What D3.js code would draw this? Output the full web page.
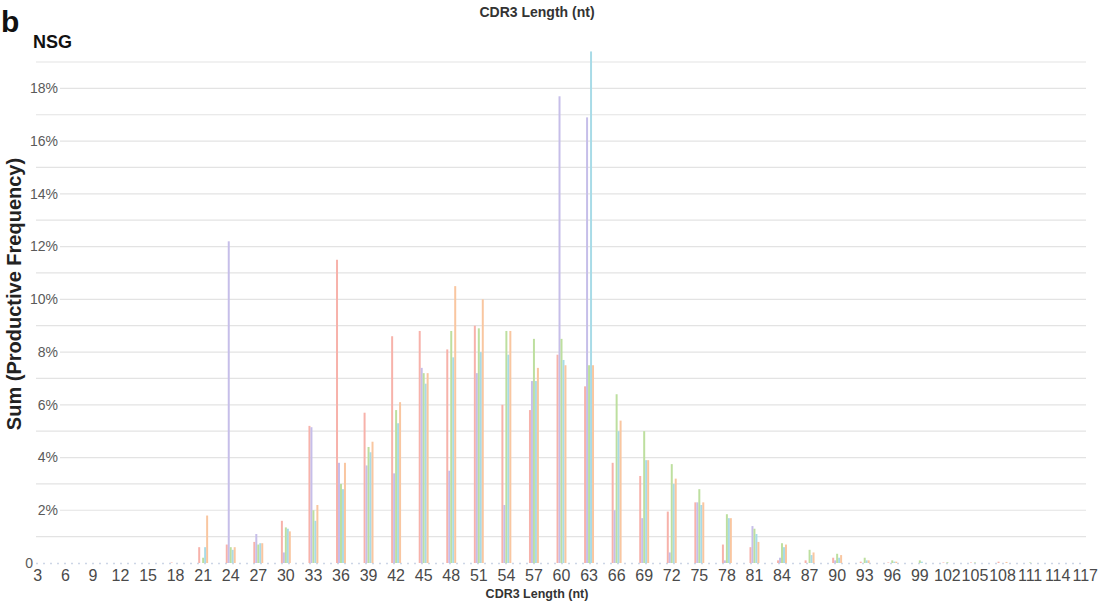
<!DOCTYPE html>
<html>
<head>
<meta charset="utf-8">
<script src="https://cdn.jsdelivr.net/npm/d3@7"></script>
<style>
  body { margin: 0; background: #fff; }
  svg { display: block; font-family: 'Liberation Sans', Arial, sans-serif; }
</style>
</head>
<body>
<svg id="chart" width="1098" height="601"></svg>
<script>
// CDR3 lengths (nt) on the x axis
const lengths = d3.range(3, 118, 3);

// series names (one per mouse / sample), values are % of productive reads
const seriesNames = ['s1', 's2', 's3', 's4', 's5'];
const seriesColors = ['#f7b2aa', '#c6bee9', '#bddf9f', '#a8dbe7', '#f9c6a0'];

//              3     6     9     12    15    18    21   24    27   30   33   36    39   42   45   48   51   54   57   60    63    66   69   72   75   78   81   84   87   90   93    96    99    102   105   108   111   114   117
const s1 = [0,    0,    0,    0,    0,    0.02, 0.6, 0.7,  0.8, 1.6, 5.2, 11.5, 5.7, 8.6, 8.8, 8.1, 9.0, 6.0, 5.8, 7.9,  6.7,  3.8, 3.3, 1.95,2.3, 0.7, 0.6, 0.1, 0.1, 0.2, 0.05, 0.02, 0,    0.02, 0.02, 0.05, 0,    0,    0];
const s2 = [0,    0,    0,    0,    0,    0,    0,   12.2, 1.1, 0.4, 5.15,3.8,  3.7, 3.4, 7.4, 3.5, 7.2, 2.2, 6.9, 17.7, 16.9, 2.0, 1.7, 0.4, 2.3, 0.1, 1.4, 0.2, 0,   0.1, 0,    0,    0,    0,    0,    0,    0,    0,    0];
const s3 = [0,    0,    0,    0,    0,    0,    0.2, 0.6,  0.7, 1.35,2.0, 3.0,  4.4, 5.8, 7.2, 8.8, 8.9, 8.8, 8.5, 8.5,  7.5,  6.4, 5.0, 3.75,2.8, 1.85,1.3, 0.75,0.5, 0.35,0.2,  0.1,  0.1,  0.03, 0.02, 0,    0.02, 0,    0];
const s4 = [0,    0,    0,    0,    0,    0,    0.6, 0.5,  0.75,1.3, 1.6, 2.8,  4.2, 5.3, 6.8, 7.8, 8.0, 7.9, 6.9, 7.7,  19.4, 5.0, 3.9, 3.0, 2.2, 1.7, 1.1, 0.6, 0.3, 0.2, 0.1,  0.05, 0.05, 0,    0,    0,    0,    0,    0];
const s5 = [0,    0,    0,    0,    0,    0,    1.8, 0.6,  0.75,1.2, 2.2, 3.8,  4.6, 6.1, 7.2, 10.5,10.0,8.8, 7.4, 7.5,  7.5,  5.4, 3.9, 3.2, 2.3, 1.7, 0.8, 0.7, 0.4, 0.3, 0.1,  0.05, 0,    0,    0,    0.04, 0,    0,    0];
const seriesValues = [s1, s2, s3, s4, s5];

const yTicks = [0, 2, 4, 6, 8, 10, 12, 14, 16, 18];
const yGrid = d3.range(1, 20);

const svg = d3.select('#chart');
const zeroY = 563;
const plotLeft = 36, plotRight = 1086;

const x0 = d3.scaleBand().domain(lengths).range([24, 1099]).paddingInner(0.64).paddingOuter(0.32);
const x1 = d3.scaleBand().domain(seriesNames).range([0, x0.bandwidth()]);
const y = d3.scaleLinear().domain([0, 19]).range([zeroY, 62]);

// gridlines; labelled ones begin after the label
svg.append('g')
  .selectAll('line')
  .data(yGrid)
  .join('line')
  .attr('x1', (d) => (d % 2 === 0 ? 60 : plotLeft))
  .attr('x2', plotRight)
  .attr('y1', (d) => y(d))
  .attr('y2', (d) => y(d))
  .attr('stroke', '#e3e3e3')
  .attr('stroke-width', 1.2);

// dotted baseline
svg.append('line')
  .attr('x1', plotLeft)
  .attr('x2', plotRight)
  .attr('y1', zeroY + 0.5)
  .attr('y2', zeroY + 0.5)
  .attr('stroke', '#cdd6e6')
  .attr('stroke-width', 1.5)
  .attr('stroke-dasharray', '2,5');

// y tick labels
svg.append('g')
  .selectAll('text')
  .data(yTicks)
  .join('text')
  .attr('x', (d) => (d === 0 ? 33 : 58))
  .attr('y', (d) => y(d))
  .attr('dy', '0.35em')
  .attr('text-anchor', 'end')
  .attr('fill', '#5a5a5a')
  .style('font-size', '14px')
  .text((d) => (d === 0 ? '0' : d + '%'));

// bars
const groups = svg.append('g')
  .selectAll('g')
  .data(lengths)
  .join('g')
  .attr('transform', (d) => `translate(${x0(d)},0)`);

groups.selectAll('rect')
  .data((d, i) => seriesNames.map((name, k) => ({ name: name, k: k, value: seriesValues[k][i] })))
  .join('rect')
  .attr('x', (d) => x1(d.name))
  .attr('width', x1.bandwidth())
  .attr('y', (d) => y(d.value))
  .attr('height', (d) => zeroY - y(d.value))
  .attr('fill', (d) => seriesColors[d.k]);

// x axis labels
const xAxis = svg.append('g')
  .attr('transform', `translate(0,${zeroY})`)
  .call(d3.axisBottom(x0).tickSize(0).tickPadding(7));
xAxis.select('.domain').remove();
xAxis.selectAll('text')
  .attr('fill', '#4a4a4a')
  .style('font-size', '16px')
  .style('font-family', "'Liberation Sans', Arial, sans-serif");

// titles
svg.append('text')
  .attr('x', 537)
  .attr('y', 17)
  .attr('text-anchor', 'middle')
  .style('font-size', '14px')
  .style('font-weight', 'bold')
  .attr('fill', '#333')
  .text('CDR3 Length (nt)');

svg.append('text')
  .attr('x', 537)
  .attr('y', 598)
  .attr('text-anchor', 'middle')
  .style('font-size', '12.5px')
  .style('font-weight', 'bold')
  .attr('fill', '#333')
  .text('CDR3 Length (nt)');

svg.append('text')
  .attr('transform', 'translate(21,294) rotate(-90)')
  .attr('text-anchor', 'middle')
  .style('font-size', '20px')
  .style('font-weight', 'bold')
  .attr('fill', '#222')
  .text('Sum (Productive Frequency)');

svg.append('text')
  .attr('x', 1)
  .attr('y', 32)
  .style('font-size', '30px')
  .style('font-weight', 'bold')
  .attr('fill', '#111')
  .text('b');

svg.append('text')
  .attr('x', 33)
  .attr('y', 48)
  .style('font-size', '18px')
  .style('font-weight', 'bold')
  .attr('fill', '#111')
  .text('NSG');
</script>
</body>
</html>
